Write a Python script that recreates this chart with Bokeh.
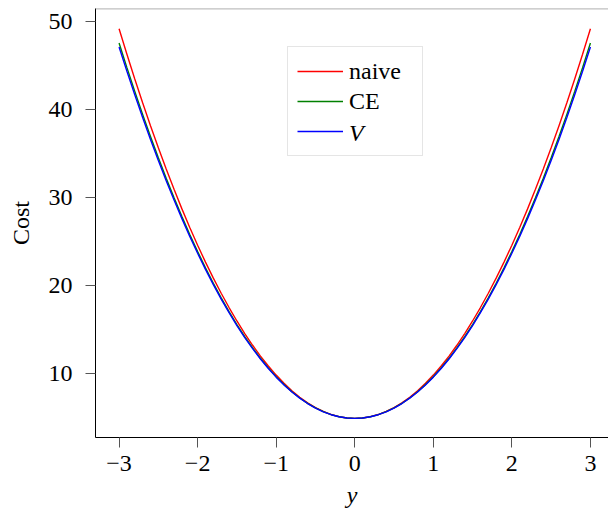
from bokeh.plotting import figure
from bokeh.models import Legend, LegendItem, Span, Range1d, FixedTicker
from bokeh.core.properties import value
from bokeh.embed import file_html
from bokeh.resources import INLINE

# ---- data ----
y_vals = [-3.0, -2.9, -2.8, -2.7, -2.6, -2.5, -2.4, -2.3, -2.2, -2.1,
          -2.0, -1.9, -1.8, -1.7, -1.6, -1.5, -1.4, -1.3, -1.2, -1.1,
          -1.0, -0.9, -0.8, -0.7, -0.6, -0.5, -0.4, -0.3, -0.2, -0.1,
          0.0,
          0.1, 0.2, 0.3, 0.4, 0.5, 0.6, 0.7, 0.8, 0.9, 1.0,
          1.1, 1.2, 1.3, 1.4, 1.5, 1.6, 1.7, 1.8, 1.9, 2.0,
          2.1, 2.2, 2.3, 2.4, 2.5, 2.6, 2.7, 2.8, 2.9, 3.0]
naive = [49.18, 46.28, 43.47, 40.77, 38.16, 35.65, 33.24, 30.93, 28.71, 26.60,
         24.58, 22.66, 20.84, 19.12, 17.50, 15.97, 14.54, 13.21, 11.98, 10.85,
         9.82, 8.89, 8.05, 7.31, 6.67, 6.13, 5.69, 5.34, 5.10, 4.95,
         4.90,
         4.95, 5.10, 5.34, 5.69, 6.13, 6.67, 7.31, 8.05, 8.89, 9.82,
         10.85, 11.98, 13.21, 14.54, 15.97, 17.50, 19.12, 20.84, 22.66, 24.58,
         26.60, 28.71, 30.93, 33.24, 35.65, 38.16, 40.77, 43.47, 46.28, 49.18]
ce = [47.56, 44.76, 42.06, 39.45, 36.94, 34.53, 32.20, 29.97, 27.84, 25.80,
      23.86, 22.01, 20.26, 18.60, 17.03, 15.57, 14.19, 12.91, 11.73, 10.64,
      9.64, 8.74, 7.93, 7.22, 6.61, 6.09, 5.66, 5.33, 5.09, 4.95,
      4.90,
      4.95, 5.09, 5.33, 5.66, 6.09, 6.61, 7.22, 7.93, 8.74, 9.64,
      10.64, 11.73, 12.91, 14.19, 15.57, 17.03, 18.60, 20.26, 22.01, 23.86,
      25.80, 27.84, 29.97, 32.20, 34.53, 36.94, 39.45, 42.06, 44.76, 47.56]
v_cost = [47.11, 44.34, 41.67, 39.09, 36.60, 34.21, 31.91, 29.71, 27.60, 25.58,
          23.66, 21.83, 20.10, 18.45, 16.91, 15.45, 14.09, 12.83, 11.65, 10.57,
          9.59, 8.70, 7.90, 7.20, 6.59, 6.07, 5.65, 5.32, 5.09, 4.95,
          4.90,
          4.95, 5.09, 5.32, 5.65, 6.07, 6.59, 7.20, 7.90, 8.70, 9.59,
          10.57, 11.65, 12.83, 14.09, 15.45, 16.91, 18.45, 20.10, 21.83, 23.66,
          25.58, 27.60, 29.71, 31.91, 34.21, 36.60, 39.09, 41.67, 44.34, 47.11]
x_ticks = [-3, -2, -1, 0, 1, 2, 3]
x_tick_labels = ["\u22123", "\u22122", "\u22121", "0", "1", "2", "3"]
y_ticks = [10, 20, 30, 40, 50]
series_names = ["naive", "CE", "V"]
series_colors = ["#ff0000", "#008000", "#0000ff"]

FONT = "Liberation Serif"
FS = "24px"

p = figure(width=608, height=514, output_backend="svg", toolbar_location=None,
           x_range=Range1d(-3.30, 3.23), y_range=Range1d(2.73, 51.48),
           min_border_left=95, min_border_right=0, min_border_top=8, min_border_bottom=77)
p.grid.visible = False
p.outline_line_color = None
p.background_fill_color = "white"

r1 = p.line(y_vals, naive, line_color=series_colors[0], line_width=1.4)
r2 = p.line(y_vals, ce, line_color=series_colors[1], line_width=1.4)
r3 = p.line(y_vals, v_cost, line_color=series_colors[2], line_width=1.4)
r_ghost = p.line(y_vals, v_cost, line_color=series_colors[2], line_alpha=0)

# top frame line
p.add_layout(Span(location=51.45, dimension="width", line_color="#808080", line_width=1))

for ax in (p.xaxis[0], p.yaxis[0]):
    ax.axis_line_color = "black"
    ax.axis_line_width = 1
    ax.major_tick_line_color = "#555555"
    ax.major_tick_in = 0
    ax.major_tick_out = 10
    ax.minor_tick_line_color = None
    ax.major_label_text_font = FONT
    ax.major_label_text_font_size = FS
    ax.major_label_text_color = "black"
    ax.axis_label_text_font = FONT
    ax.axis_label_text_font_size = FS
    ax.axis_label_text_color = "black"

p.xaxis.ticker = FixedTicker(ticks=x_ticks)
p.xaxis.major_label_overrides = {t: l for t, l in zip(x_ticks, x_tick_labels)}
p.xaxis.major_label_standoff = 8
p.xaxis.axis_label = "y"
p.xaxis.axis_label_text_font_style = "italic"
p.xaxis.axis_label_standoff = 8

p.yaxis.ticker = FixedTicker(ticks=y_ticks)
p.yaxis.major_label_standoff = 13
p.yaxis.axis_label = "Cost"
p.yaxis.axis_label_text_font_style = "normal"
p.yaxis.axis_label_standoff = 12

common = dict(padding=9, spacing=0, glyph_width=46, glyph_height=30,
              label_height=30, label_width=64, label_standoff=6, label_text_font=FONT,
              label_text_font_size=FS, label_text_color="black", margin=0)

legend1 = Legend(items=[LegendItem(label=series_names[0], renderers=[r1]),
                        LegendItem(label=series_names[1], renderers=[r2]),
                        LegendItem(label=value(" "), renderers=[r3])],
                 location=(192, 281),
                 border_line_color="#cccccc", border_line_width=1,
                 background_fill_color="white", background_fill_alpha=1, **common)
legend2 = Legend(items=[LegendItem(label=value(" "), renderers=[r_ghost]),
                        LegendItem(label=value(" "), renderers=[r_ghost]),
                        LegendItem(label=series_names[2], renderers=[r_ghost])],
                 location=(202, 289),
                 border_line_color=None, background_fill_alpha=0,
                 label_text_font_style="italic", **common)
p.add_layout(legend1)
p.add_layout(legend2)

open("out.html", "w").write(file_html(p, INLINE))
